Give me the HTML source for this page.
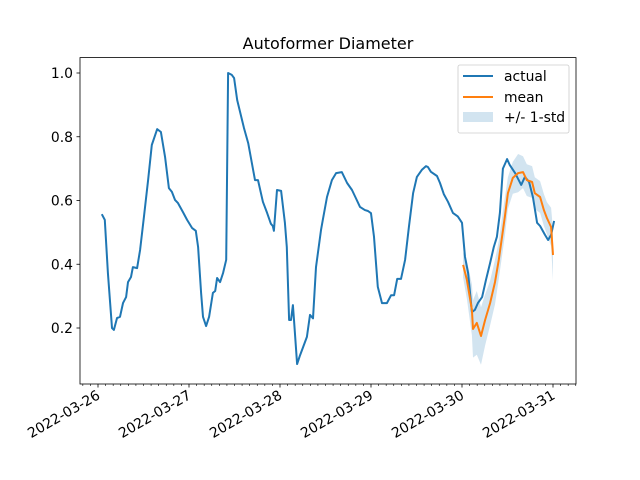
<!DOCTYPE html>
<html><head><meta charset="utf-8"><style>
body{margin:0;background:#fff}
svg{display:block;font-family:"DejaVu Sans","Liberation Sans",sans-serif}
</style></head><body>
<svg id="chart" width="640" height="480" viewBox="0 0 640 480"></svg>
<script>
const actualHours=[1.0,1.8,2.6,3.7,4.2,5.0,5.8,6.6,7.4,7.9,8.7,9.2,10.3,11.1,12.1,13.2,14.2,15.6,16.6,17.7,18.7,19.5,20.3,21.1,22.4,23.5,24.8,25.8,26.4,27.2,27.7,28.5,29.3,30.3,30.9,31.4,32.2,33.0,33.8,34.3,35.3,35.9,36.7,38.5,39.6,41.4,42.2,43.5,44.6,45.6,46.1,46.4,47.2,48.3,49.3,49.8,50.4,50.9,51.4,51.7,52.5,53.3,54.1,55.1,55.9,56.7,57.5,58.8,59.3,60.4,61.7,62.8,64.3,65.7,67.0,68.0,69.1,70.4,71.2,72.0,72.8,73.8,74.9,76.2,77.3,78.1,78.9,79.9,81.0,82.0,83.1,84.1,85.4,86.5,87.0,87.8,89.4,90.2,91.2,92.3,93.6,94.9,96.0,96.8,97.6,98.6,99.4,100.2,101.3,102.3,103.4,104.4,105.2,106.0,106.8,107.9,108.6,110.0,111.6,112.6,113.7,114.7,115.8,116.6,117.9,118.7,119.5,120.3];
const actualValues=[0.557,0.539,0.373,0.200,0.194,0.231,0.235,0.278,0.297,0.344,0.360,0.391,0.388,0.445,0.548,0.664,0.774,0.824,0.815,0.736,0.639,0.627,0.602,0.592,0.564,0.539,0.514,0.505,0.454,0.310,0.235,0.206,0.235,0.310,0.316,0.357,0.344,0.373,0.414,1.000,0.994,0.984,0.915,0.827,0.780,0.664,0.664,0.596,0.561,0.527,0.520,0.505,0.633,0.630,0.530,0.454,0.225,0.225,0.272,0.225,0.087,0.115,0.140,0.172,0.241,0.230,0.391,0.507,0.539,0.611,0.664,0.686,0.689,0.655,0.633,0.608,0.580,0.570,0.567,0.560,0.486,0.329,0.278,0.278,0.303,0.303,0.354,0.354,0.414,0.517,0.623,0.674,0.696,0.708,0.705,0.690,0.677,0.655,0.620,0.596,0.561,0.550,0.530,0.423,0.373,0.250,0.257,0.278,0.297,0.350,0.404,0.454,0.486,0.561,0.700,0.730,0.711,0.686,0.649,0.674,0.658,0.611,0.530,0.520,0.492,0.476,0.492,0.536];
const meanHours=[96.3,97.3,98.6,98.9,99.9,101.0,102.1,103.4,104.7,105.7,107.3,108.1,109.4,110.8,112.1,113.1,114.5,115.2,116.6,117.6,118.4,119.5,120.0];
const meanValues=[0.398,0.351,0.257,0.197,0.216,0.175,0.225,0.278,0.344,0.414,0.548,0.623,0.671,0.686,0.689,0.664,0.658,0.623,0.611,0.570,0.545,0.517,0.429];
const stdValues=[0.04,0.06,0.08,0.09,0.10,0.09,0.08,0.07,0.07,0.06,0.06,0.05,0.05,0.06,0.05,0.05,0.05,0.05,0.05,0.05,0.05,0.06,0.08];
const yTicks=[0.2,0.4,0.6,0.8,1.0];
const dateLabels=["2022-03-26","2022-03-27","2022-03-28","2022-03-29","2022-03-30","2022-03-31"];

const L=80,R=576,T=57.6,B=384;
const X=h=>98+h*91/24;
const Y=v=>391.75-v*318.75;
const NS="http://www.w3.org/2000/svg";
const svg=document.getElementById('chart');
function mk(tag,attrs,parent){const e=document.createElementNS(NS,tag);for(const k in attrs)e.setAttribute(k,attrs[k]);(parent||svg).appendChild(e);return e;}

const title=mk('text',{x:328,y:49,'text-anchor':'middle','font-size':16,fill:'#000'});


title.textContent='Autoformer Diameter';

// std band
let up=meanHours.map((h,i)=>X(h).toFixed(1)+','+Y(meanValues[i]+stdValues[i]).toFixed(1));
let lo=meanHours.map((h,i)=>X(h).toFixed(1)+','+Y(meanValues[i]-stdValues[i]).toFixed(1)).reverse();
const band=mk('polygon',{points:up.concat(lo).join(' '),fill:'#1f77b4','fill-opacity':0.2,stroke:'none'});



const aLine=mk('polyline',{points:actualHours.map((h,i)=>X(h).toFixed(1)+','+Y(actualValues[i]).toFixed(1)).join(' '),fill:'none',stroke:'#1f77b4','stroke-width':2,'stroke-linejoin':'round'});


const mLine=mk('polyline',{points:meanHours.map((h,i)=>X(h).toFixed(1)+','+Y(meanValues[i]).toFixed(1)).join(' '),fill:'none',stroke:'#ff7f0e','stroke-width':2,'stroke-linejoin':'round'});



const frame=mk('rect',{x:L,y:T,width:R-L,height:B-T,fill:'none',stroke:'#000','stroke-width':0.8});



yTicks.forEach(v=>{
  const y=Y(v);
  const t=mk('line',{x1:L-3.5,x2:L,y1:y,y2:y,stroke:'#000','stroke-width':0.8});
  
  
  const lb=mk('text',{x:L-7,y:y+5,'text-anchor':'end','font-size':13.9});
  
  
  lb.textContent=v.toFixed(1);
});
for(let h=-4;h<=128;h+=2){
  const x=X(h); if(x<L||x>R)continue;
  const major=h%24===0;
  const t=mk('line',{x1:x,x2:x,y1:B,y2:B+(major?3.5:2),stroke:'#000','stroke-width':major?0.8:0.6});
  
  
}
dateLabels.forEach((d,i)=>{
  const x=X(i*24);
  const lb=mk('text',{x:x+3,y:B+14,'text-anchor':'end','font-size':13.9,transform:`rotate(-30 ${x+3} ${B+14})`});
  
  
  lb.textContent=d;
});

// legend
const lg=mk('g',{});


mk('rect',{x:458,y:65,width:111,height:68,rx:2,fill:'#fff','fill-opacity':0.8,stroke:'#ccc','stroke-width':0.8},lg);
const ents=[['actual','line','#1f77b4',76],['mean','line','#ff7f0e',97],['+/- 1-std','patch','#1f77b4',117]];
ents.forEach(e=>{
  const g=mk('g',{},lg);
  
  
  if(e[1]==='line')mk('line',{x1:463,x2:493,y1:e[3],y2:e[3],stroke:e[2],'stroke-width':2},g);
  else mk('rect',{x:463,y:e[3]-5,width:30,height:10,fill:e[2],'fill-opacity':0.2},g);
  const t=mk('text',{x:504,y:e[3]+5,'font-size':13.9},g);
  t.textContent=e[0];
});
</script>
</body></html>
